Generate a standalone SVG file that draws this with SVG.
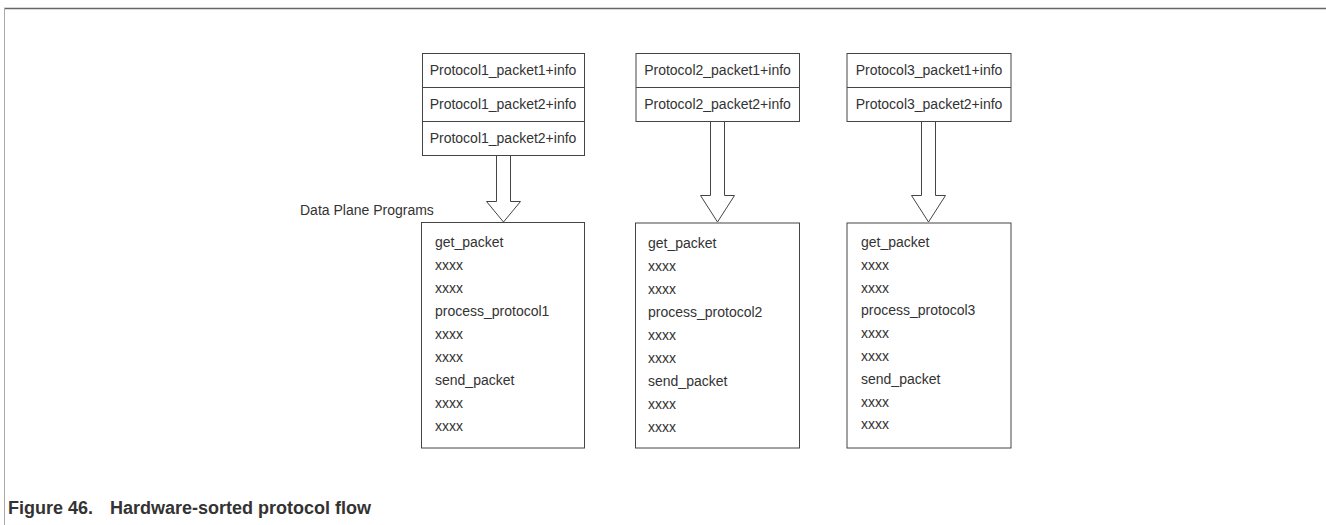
<svg xmlns="http://www.w3.org/2000/svg" width="1326" height="525" viewBox="0 0 1326 525">
<style>
  .box { fill: #fff; stroke: #444; stroke-width: 1; }
  .div { stroke: #444; stroke-width: 1; }
  .hdr { font-family: "Liberation Sans", Arial, sans-serif; font-size: 14px; fill: #333; text-anchor: middle; }
  .txt { font-family: "Liberation Sans", Arial, sans-serif; font-size: 14px; fill: #333; }
  .arrow { fill: #fff; stroke: #444; stroke-width: 1; stroke-linejoin: miter; }
  .cap { font-family: "Liberation Sans", Arial, sans-serif; font-size: 18px; font-weight: bold; fill: #333; }
</style>
<rect x="0" y="0" width="1326" height="525" fill="#fff"/>
<g id="frame">
  <line x1="4" y1="8.5" x2="1326" y2="8.5" stroke="#666" stroke-width="1.5"/>
  <line x1="4.5" y1="8" x2="4.5" y2="525" stroke="#aaa" stroke-width="1"/>
</g>

<g id="connectors">
  <path class="arrow" d="M496.5,155.5 V201.5 H486.5 L503.5,222 L520.5,201.5 H510.5 V155.5 Z"/>
  <path class="arrow" d="M710.5,121.5 V195.5 H700.5 L717.5,222 L734.5,195.5 H724.5 V121.5 Z"/>
  <path class="arrow" d="M921.5,121.5 V195.5 H911.5 L928.5,222 L945.5,195.5 H935.5 V121.5 Z"/>
</g>

<g id="packets1">
  <rect class="box" x="422.5" y="53.5" width="162" height="102"/>
  <line class="div" x1="422.5" y1="87.5" x2="584.5" y2="87.5"/>
  <line class="div" x1="422.5" y1="121.5" x2="584.5" y2="121.5"/>
  <text class="hdr" x="503" y="75">Protocol1_packet1+info</text>
  <text class="hdr" x="503" y="109">Protocol1_packet2+info</text>
  <text class="hdr" x="503" y="143">Protocol1_packet2+info</text>
</g>

<g id="packets2">
  <rect class="box" x="636" y="53.5" width="163.5" height="68"/>
  <line class="div" x1="636" y1="87.5" x2="799.5" y2="87.5"/>
  <text class="hdr" x="717.5" y="75">Protocol2_packet1+info</text>
  <text class="hdr" x="717.5" y="109">Protocol2_packet2+info</text>
</g>

<g id="packets3">
  <rect class="box" x="847" y="53.5" width="164" height="68"/>
  <line class="div" x1="847" y1="87.5" x2="1011" y2="87.5"/>
  <text class="hdr" x="929" y="75">Protocol3_packet1+info</text>
  <text class="hdr" x="929" y="109">Protocol3_packet2+info</text>
</g>

<g id="label">
  <text class="txt" x="300" y="215">Data Plane Programs</text>
</g>

<g id="program1">
  <rect class="box" x="421.5" y="222.5" width="163" height="225.5"/>
  <text class="txt" x="435" y="247">get_packet</text>
  <text class="txt" x="435" y="270">xxxx</text>
  <text class="txt" x="435" y="293">xxxx</text>
  <text class="txt" x="435" y="316">process_protocol1</text>
  <text class="txt" x="435" y="339">xxxx</text>
  <text class="txt" x="435" y="362">xxxx</text>
  <text class="txt" x="435" y="385">send_packet</text>
  <text class="txt" x="435" y="408">xxxx</text>
  <text class="txt" x="435" y="431">xxxx</text>
</g>

<g id="program2">
  <rect class="box" x="635.5" y="223" width="164" height="225"/>
  <text class="txt" x="648" y="248">get_packet</text>
  <text class="txt" x="648" y="271">xxxx</text>
  <text class="txt" x="648" y="294">xxxx</text>
  <text class="txt" x="648" y="317">process_protocol2</text>
  <text class="txt" x="648" y="340">xxxx</text>
  <text class="txt" x="648" y="363">xxxx</text>
  <text class="txt" x="648" y="386">send_packet</text>
  <text class="txt" x="648" y="409">xxxx</text>
  <text class="txt" x="648" y="432">xxxx</text>
</g>

<g id="program3">
  <rect class="box" x="847" y="223" width="164" height="225"/>
  <text class="txt" x="861" y="247">get_packet</text>
  <text class="txt" x="861" y="269.8">xxxx</text>
  <text class="txt" x="861" y="292.6">xxxx</text>
  <text class="txt" x="861" y="315.4">process_protocol3</text>
  <text class="txt" x="861" y="338.2">xxxx</text>
  <text class="txt" x="861" y="361">xxxx</text>
  <text class="txt" x="861" y="383.8">send_packet</text>
  <text class="txt" x="861" y="406.6">xxxx</text>
  <text class="txt" x="861" y="429.4">xxxx</text>
</g>

<g id="caption">
  <text class="cap" x="8" y="514">Figure 46.</text>
  <text class="cap" x="110" y="514">Hardware-sorted protocol flow</text>
</g>
</svg>
